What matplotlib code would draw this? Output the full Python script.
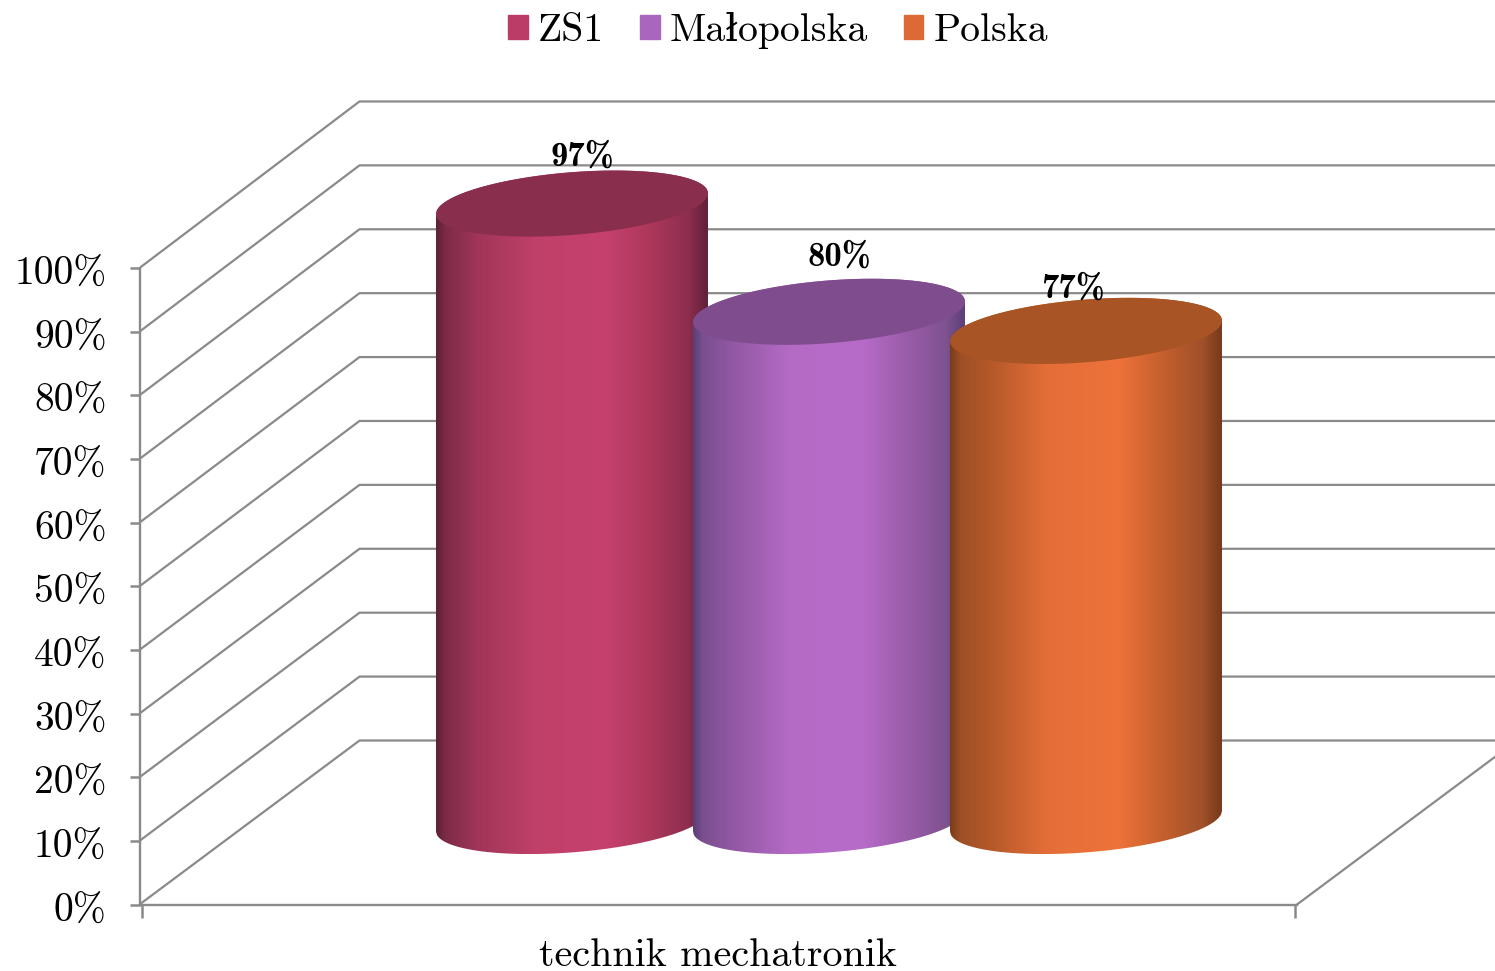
import numpy as np
import matplotlib
matplotlib.use('Agg')
import matplotlib.pyplot as plt
from matplotlib.colors import LinearSegmentedColormap
from matplotlib.patches import Patch, Polygon
from matplotlib.transforms import ScaledTranslation

# data
categories = ['technik mechatronik']
series = ['ZS1', 'Małopolska', 'Polska']
values = [97, 80, 77]
y_ticks = [0, 10, 20, 30, 40, 50, 60, 70, 80, 90, 100]

# colours: legend, top of the cylinder, shading from left to right
legend_colors = ['#bc3c68', '#aa66bf', '#dd6a35']
top_colors = ['#8a2e4e', '#7f4d8e', '#a85425']
shade_stops = [0, 0.035, 0.15, 0.36, 0.62, 0.78, 0.93, 1]
shades = [
    ['#5e2038', '#7d2b47', '#a03558', '#bf4069', '#c6416e', '#ae385c', '#8d2e4e', '#5f2039'],
    ['#5a3f78', '#7a4f8e', '#9358a5', '#b56bc6', '#b76cc9', '#9c5dab', '#7f5290', '#5c4078'],
    ['#7a3d18', '#9c4f26', '#b5592a', '#e56e38', '#ee723a', '#c5602d', '#a0502a', '#78391a'],
]

W, H = 1495, 971
X0, Y0 = 139.5, 904.5        # pixel position of the 0% corner
PX_PER_PCT = 6.365
DEPTH_X, DEPTH_Y = 220, 164  # shift of the back wall in pixels
BACK_STRETCH = 1.004         # back wall comes out a little taller than the front edge
GRID = '#8a8a8a'
FONT = ['cmr10', 'DejaVu Serif']

plt.rcParams['font.family'] = FONT
plt.rcParams['axes.unicode_minus'] = False

fig = plt.figure(figsize=(W / 100, H / 100), dpi=100)
ax = fig.add_axes([X0 / W, 1 - Y0 / H, (W - X0) / W, Y0 / H])

depth_pct = DEPTH_Y / PX_PER_PCT

# walls and floor
for t in y_ticks:
    back = t * BACK_STRETCH + depth_pct
    ax.plot([X0, X0 + DEPTH_X, W], [t, back, back], color=GRID, lw=1.6, zorder=1,
            solid_joinstyle='miter')
ax.plot([1297, W], [0, (W - 1297) * DEPTH_Y / DEPTH_X / PX_PER_PCT], color=GRID, lw=1.6, zorder=1)

# cylinders
centers = [572, 829, 1086]
base_pct = (Y0 - 821) / PX_PER_PCT
half_w, half_h, tilt = 136.4, 31.3, np.radians(4.6)
label_shift = [(10, 46), (10, 55), (-13, 42)]


def ellipse_xy(cx, cy, t):
    dx = half_w * np.cos(t) * np.cos(tilt) - half_h * np.sin(t) * np.sin(tilt)
    dy = half_w * np.cos(t) * np.sin(tilt) + half_h * np.sin(t) * np.cos(tilt)
    return cx + dx, cy + dy / PX_PER_PCT


for i, val in enumerate(values):
    cx = centers[i]
    top = base_pct + val
    t = np.linspace(0, 2 * np.pi, 240)
    xb, yb = ellipse_xy(cx, base_pct, t)
    xt, yt = ellipse_xy(cx, top, t)

    # body outline: lower half of the base ellipse, upper half of the top one
    cols = np.linspace(xb.min(), xb.max(), 300)
    lower = yb <= np.interp(xb, [xb.min(), xb.max()], [yb[xb.argmin()], yb[xb.argmax()]])
    upper = yt >= np.interp(xt, [xt.min(), xt.max()], [yt[xt.argmin()], yt[xt.argmax()]])
    s_low = np.argsort(xb[lower])
    s_up = np.argsort(xt[upper])
    low = np.interp(cols, xb[lower][s_low], yb[lower][s_low])
    high = np.interp(cols, xt[upper][s_up], yt[upper][s_up])
    outline = np.vstack([np.column_stack([cols, low]), np.column_stack([cols, high])[::-1]])

    clip = Polygon(outline, closed=True, transform=ax.transData, fc='none', ec='none')
    ax.add_patch(clip)
    cmap = LinearSegmentedColormap.from_list('s%d' % i, list(zip(shade_stops, shades[i])))
    im = ax.imshow(np.linspace(0, 1, 256)[None, :], cmap=cmap, aspect='auto', origin='lower',
                   extent=[cols[0], cols[-1], low.min(), high.max()], zorder=2 + i,
                   interpolation='bilinear')
    im.set_clip_path(clip)

    ax.fill(xt, yt, color=top_colors[i], lw=0, zorder=2 + i)

    sx, sy = label_shift[i]
    ax.text(cx + sx, top + sy / PX_PER_PCT, f'{val}%', family=['cmb10', 'DejaVu Serif'], fontsize=25,
            ha='center', va='center', color='black', zorder=10)

ax.set_xlim(X0, W)
ax.set_ylim(0, Y0 / PX_PER_PCT)

# axes
for side in ['top', 'right']:
    ax.spines[side].set_visible(False)
ax.patch.set_visible(False)
ax.spines['left'].set_bounds(0, 100)
ax.spines['bottom'].set_bounds(X0, 1297)
for side in ['left', 'bottom']:
    ax.spines[side].set_color(GRID)
    ax.spines[side].set_linewidth(1.7)

ax.set_yticks(y_ticks)
ax.set_yticklabels([f'{t}%' for t in y_ticks], fontsize=28.5)
ax.tick_params(axis='y', length=7.2, width=1.8, color=GRID, pad=16.5)
# labels sit a little below their ticks in the original
down = ScaledTranslation(0, -3 / 100, fig.dpi_scale_trans)
for lab in ax.get_yticklabels():
    lab.set_transform(lab.get_transform() + down)
ax.set_xticks([142, 1295])
ax.set_xticklabels(['', ''])
ax.tick_params(axis='x', which='major', length=9, width=1.8, color=GRID)
ax.set_xticks([718], minor=True)
ax.set_xticklabels(categories, minor=True, fontsize=28.8)
ax.tick_params(axis='x', which='minor', length=0, pad=24)

handles = [Patch(color=c, label=s) for c, s in zip(legend_colors, series)]
fig.legend(handles=handles, loc='upper center', bbox_to_anchor=(778 / W, 1.0), ncol=3, frameon=False,
           fontsize=28.6, handlelength=0.5, handleheight=0.58, handletextpad=0.25, columnspacing=0.9,
           borderpad=0, borderaxespad=0.3)

plt.savefig('out.png', dpi=100)
